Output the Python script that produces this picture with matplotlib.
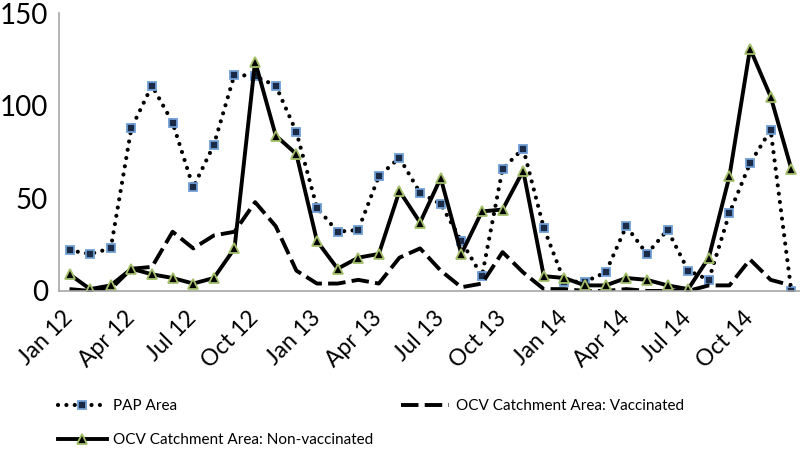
import matplotlib
matplotlib.use("Agg")
import matplotlib.pyplot as plt
import numpy as np

plt.rcParams['font.family'] = ['Lato', 'DejaVu Sans']

# monthly counts, Jan 2012 .. Dec 2014
months = ["Jan 12", "Feb 12", "Mar 12", "Apr 12", "May 12", "Jun 12",
          "Jul 12", "Aug 12", "Sep 12", "Oct 12", "Nov 12", "Dec 12",
          "Jan 13", "Feb 13", "Mar 13", "Apr 13", "May 13", "Jun 13",
          "Jul 13", "Aug 13", "Sep 13", "Oct 13", "Nov 13", "Dec 13",
          "Jan 14", "Feb 14", "Mar 14", "Apr 14", "May 14", "Jun 14",
          "Jul 14", "Aug 14", "Sep 14", "Oct 14", "Nov 14", "Dec 14"]

pap_area = [22, 20, 23, 88, 111, 91, 56, 79, 117, 116, 111, 86,
            45, 32, 33, 62, 72, 53, 47, 27, 8, 66, 77, 34,
            5, 5, 10, 35, 20, 33, 11, 6, 42, 69, 87, 0]

ocv_vaccinated = [1, 0, 1, 12, 13, 32, 23, 30, 32, 48, 35, 11,
                  4, 4, 6, 4, 18, 23, 11, 2, 4, 21, 10, 1,
                  1, 0, 0, 1, 0, 0, 0, 3, 3, 17, 6, 3]

ocv_non_vaccinated = [9, 1, 3, 12, 9, 7, 4, 7, 23, 124, 84, 74,
                      27, 12, 18, 20, 54, 37, 61, 20, 43, 44, 65, 8,
                      7, 3, 3, 7, 6, 3, 1, 18, 62, 131, 105, 66]

x = np.arange(len(months))

fig = plt.figure(figsize=(8, 4.49), dpi=100)
ax = fig.add_axes([0.074, 0.352, 0.928, 0.618])

p1, = ax.plot(x, pap_area, color='black', linewidth=3, linestyle=(0, (0.01, 2.0)),
              dash_capstyle='round', marker='s', markersize=5.5,
              markerfacecolor='#1c2b45', markeredgecolor='#6f9fd6', markeredgewidth=1.3)
p2, = ax.plot(x, ocv_vaccinated, color='black', linewidth=2.8,
              linestyle=(0, (4.5, 1.6)), dash_capstyle='butt')
p3, = ax.plot(x, ocv_non_vaccinated, color='black', linewidth=2.8,
              marker='^', markersize=6.5, markerfacecolor='black',
              markeredgecolor='#a3bf6a', markeredgewidth=1.3)

ax.set_xlim(-0.5, 35.5)
ax.set_ylim(0, 150)
ax.set_yticks([0, 50, 100, 150])
ax.set_xticks(x[::3])
ax.set_xticklabels(months[::3], rotation=45, ha='right', va='center',
                   rotation_mode='anchor')
ax.tick_params(axis='y', length=0, labelsize=20, pad=8)
ax.tick_params(axis='x', length=0, labelsize=16.5, pad=17)

for side in ['top', 'right']:
    ax.spines[side].set_visible(False)
for side in ['left', 'bottom']:
    ax.spines[side].set_color('#a6a6a6')
    ax.spines[side].set_linewidth(1.2)

fig.legend([p1, p3, p2],
           ["PAP Area", "OCV Catchment Area: Non-vaccinated", "OCV Catchment Area: Vaccinated"],
           ncol=2, loc='lower left', bbox_to_anchor=(0.055, -0.026), frameon=False,
           fontsize=11, handlelength=3.2, handletextpad=0.4, columnspacing=1.8,
           labelspacing=1.3)

fig.savefig("out.png", dpi=100)
